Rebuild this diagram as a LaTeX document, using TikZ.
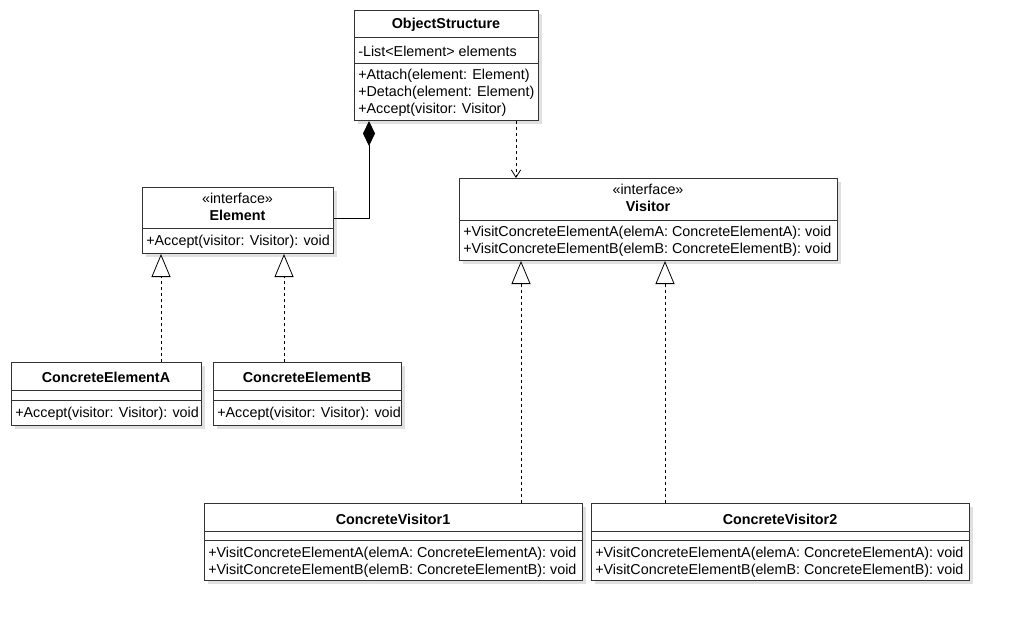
\documentclass[tikz,border=0pt]{standalone}
\usepackage{fontspec}
\setmainfont{Liberation Sans}
\usetikzlibrary{arrows.meta, shadows, positioning}

\tikzset{
	cls/.style={draw=black!80, line width=0.75pt, fill=white, inner sep=0pt, anchor=north west,
		drop shadow={shadow xshift=2.5pt, shadow yshift=-2.5pt, fill=black!30, opacity=0.4}},
	sep/.style={draw=black!80, line width=0.75pt},
	txt/.style={inner sep=0pt, font=\fontsize{10.75pt}{12.6pt}\selectfont, align=left, anchor=west},
	ttl/.style={txt, align=center, anchor=center},
	comp/.style={line width=0.7pt, -{Diamond[length=18.75pt, width=9pt]}},
	dep/.style={line width=0.6pt, dash pattern=on 2.25pt off 2.25pt, -{Straight Barb[length=5.5pt, width=7pt]}},
	real/.style={line width=0.6pt, dash pattern=on 2.25pt off 2.25pt, -{Triangle[open, length=17.25pt, width=14.25pt, fill=white]}}
}

\begin{document}
\begin{tikzpicture}[x=0.75pt, y=-0.75pt]
	\useasboundingbox (0,0) rectangle (1012,627);
	% class boxes
	\foreach \n/\x/\y/\w/\h in {
		objs/354/10/184/110,
		elem/142/187/191/66,
		vis/459/178/378/82,
		cea/11/362/190/63,
		ceb/213/362/188/63,
		cv1/204/503/378/77,
		cv2/591/503/378/77}{
		\node[cls, minimum width=\w*0.75pt, minimum height=\h*0.75pt] (\n) at (\x,\y) {};
	}
	% compartments
	\foreach \n/\y in {objs/38, objs/64, elem/228, vis/220, cea/390, cea/400, ceb/390, ceb/400,
		cv1/531, cv1/540, cv2/531, cv2/540}{
		\coordinate (d) at (0,\y);
		\draw[sep] (\n.west |- d) -- (\n.east |- d);
	}
	% texts
	\node[ttl] (objs-t) at (446,25) {\textbf{ObjectStructure}};
	\node[txt] (objs-a) at (358,51) {-List<Element> elements};
	\node[txt] (objs-o) at (358,93) {+Attach(element: Element)\\+Detach(element: Element)\\+Accept(visitor: Visitor)};
	\node[ttl] (elem-t) at (237.5,207) {«interface»\\\textbf{Element}};
	\node[txt] (elem-o) at (146,241.5) {+Accept(visitor: Visitor): void};
	\node[ttl] (vis-t) at (648,198) {«interface»\\\textbf{Visitor}};
	\node[txt] (vis-o) at (463,241) {+VisitConcreteElementA(elemA: ConcreteElementA): void\\+VisitConcreteElementB(elemB: ConcreteElementB): void};
	\node[ttl] (cea-t) at (106,377.5) {\textbf{ConcreteElementA}};
	\node[txt] (cea-o) at (15,413.5) {+Accept(visitor: Visitor): void};
	\node[ttl] (ceb-t) at (307,377.5) {\textbf{ConcreteElementB}};
	\node[txt] (ceb-o) at (217,413.5) {+Accept(visitor: Visitor): void};
	\node[ttl] (cv1-t) at (393,519) {\textbf{ConcreteVisitor1}};
	\node[txt] (cv1-o) at (208,562) {+VisitConcreteElementA(elemA: ConcreteElementA): void\\+VisitConcreteElementB(elemB: ConcreteElementB): void};
	\node[ttl] (cv2-t) at (780,519) {\textbf{ConcreteVisitor2}};
	\node[txt] (cv2-o) at (595,562) {+VisitConcreteElementA(elemA: ConcreteElementA): void\\+VisitConcreteElementB(elemB: ConcreteElementB): void};
	% connectors
	\coordinate (bend) at (369,218);
	\draw[comp] (elem.east |- bend) -- (bend) -- (objs.south -| bend);
	\coordinate (usage) at (516,150);
	\draw[dep] (objs.south -| usage) -- (vis.north -| usage);
	\foreach \a/\b/\x in {cea/elem/161, ceb/elem/284, cv1/vis/521, cv2/vis/665}{
		\coordinate (r) at (\x,0);
		\draw[real] (\a.north -| r) -- (\b.south -| r);
	}
\end{tikzpicture}
\end{document}
